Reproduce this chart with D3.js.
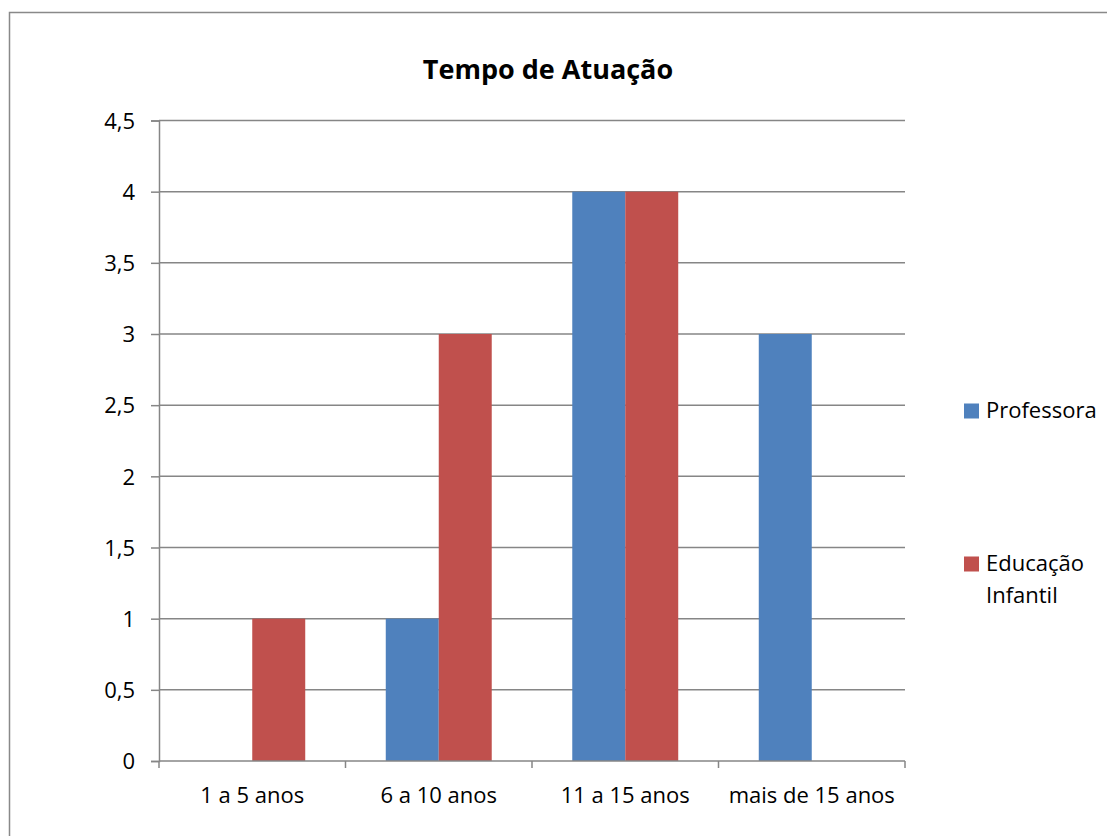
<!DOCTYPE html>
<html>
<head>
<meta charset="utf-8">
<script src="https://cdn.jsdelivr.net/npm/d3@7"></script>
<style>
  body { margin: 0; background: #fff; }
  text { font-family: "Open Sans", Lato, sans-serif; fill: #000; }
</style>
</head>
<body>
<div id="chart"></div>
<script>
// data
var categories = ["1 a 5 anos", "6 a 10 anos", "11 a 15 anos", "mais de 15 anos"];
var seriesNames = ["Professora", "Educação Infantil"];
var professora = [0, 1, 4, 3];
var educacao = [1, 3, 4, 0];
var yTicks = [0, 0.5, 1, 1.5, 2, 2.5, 3, 3.5, 4, 4.5];
var colors = ["#4F81BD", "#C0504D"];

var W = 1107, H = 836;
var margin = {top: 120.5, right: 202, bottom: 75, left: 159};
var width = W - margin.left - margin.right,
    height = H - margin.top - margin.bottom;

var svg = d3.select("#chart").append("svg")
  .attr("width", W).attr("height", H);

// outer chart border (only top/left visible)
svg.append("rect")
  .attr("x", 9.5).attr("y", 12.5)
  .attr("width", W + 20).attr("height", H + 20)
  .attr("fill", "none").attr("stroke", "#898989").attr("stroke-width", 1.5);

svg.append("text")
  .attr("x", 548).attr("y", 79)
  .attr("text-anchor", "middle")
  .style("font-weight", "bold").style("font-size", "27px")
  .text("Tempo de Atuação");

var g = svg.append("g").attr("transform", "translate(" + margin.left + "," + margin.top + ")");

var x0 = d3.scaleBand().domain(categories).range([0, width]).padding(0);
var x1 = d3.scaleBand().domain(seriesNames).range([0, x0.bandwidth()]).paddingInner(0).paddingOuter(0.76);
var y = d3.scaleLinear().domain([0, 4.5]).range([height, 0]);

// gridlines
g.selectAll(".grid").data(yTicks.filter(function(d) { return d > 0; }))
  .enter().append("line")
  .attr("x1", 0).attr("x2", width)
  .attr("y1", function(d) { return y(d); }).attr("y2", function(d) { return y(d); })
  .attr("stroke", "#868686").attr("stroke-width", 1.5);

// bars
var rows = categories.map(function(c, i) {
  return {cat: c, vals: [professora[i], educacao[i]]};
});
var groups = g.selectAll(".cat").data(rows).enter().append("g")
  .attr("transform", function(d) { return "translate(" + x0(d.cat) + ",0)"; });
groups.selectAll("rect")
  .data(function(d) { return d.vals.map(function(v, j) { return {s: seriesNames[j], v: v, c: colors[j]}; }); })
  .enter().append("rect")
  .attr("x", function(d) { return x1(d.s); })
  .attr("width", x1.bandwidth())
  .attr("y", function(d) { return y(d.v); })
  .attr("height", function(d) { return height - y(d.v); })
  .attr("fill", function(d) { return d.c; });

// y axis
var yAxis = g.append("g")
  .call(d3.axisLeft(y).tickValues(yTicks).tickSize(8).tickPadding(16)
    .tickFormat(function(d) { return String(d).replace(".", ","); }));
yAxis.select(".domain").attr("stroke", "#868686").attr("stroke-width", 1.5);
yAxis.selectAll(".tick line").attr("stroke", "#868686").attr("stroke-width", 1.5);
yAxis.selectAll("text").style("font-size", "22px").attr("dy", "0.35em");

// x axis
var xAxisG = g.append("g").attr("transform", "translate(0," + height + ")");
xAxisG.append("line").attr("x1", 0).attr("x2", width)
  .attr("stroke", "#868686").attr("stroke-width", 1.5);
var edges = categories.map(function(c) { return x0(c); }).concat([width]);
xAxisG.selectAll(".xt").data(edges).enter().append("line")
  .attr("x1", function(d) { return d; }).attr("x2", function(d) { return d; })
  .attr("y1", 0).attr("y2", 7)
  .attr("stroke", "#868686").attr("stroke-width", 1.5);
xAxisG.selectAll(".xl").data(categories).enter().append("text")
  .attr("x", function(d) { return x0(d) + x0.bandwidth() / 2; })
  .attr("y", 42)
  .attr("text-anchor", "middle")
  .style("font-size", "22px")
  .text(function(d) { return d; });

// legend
var legendLines = [["Professora"], ["Educação", "Infantil"]];
var legendY = [411, 564];
var lg = svg.append("g");
legendLines.forEach(function(lines, i) {
  lg.append("rect").attr("x", 964).attr("y", legendY[i] - 7.5)
    .attr("width", 15).attr("height", 15).attr("fill", colors[i]);
  lines.forEach(function(t, k) {
    lg.append("text").attr("x", 986).attr("y", legendY[i] + 7 + k * 32)
      .style("font-size", "22px").text(t);
  });
});
</script>
</body>
</html>
